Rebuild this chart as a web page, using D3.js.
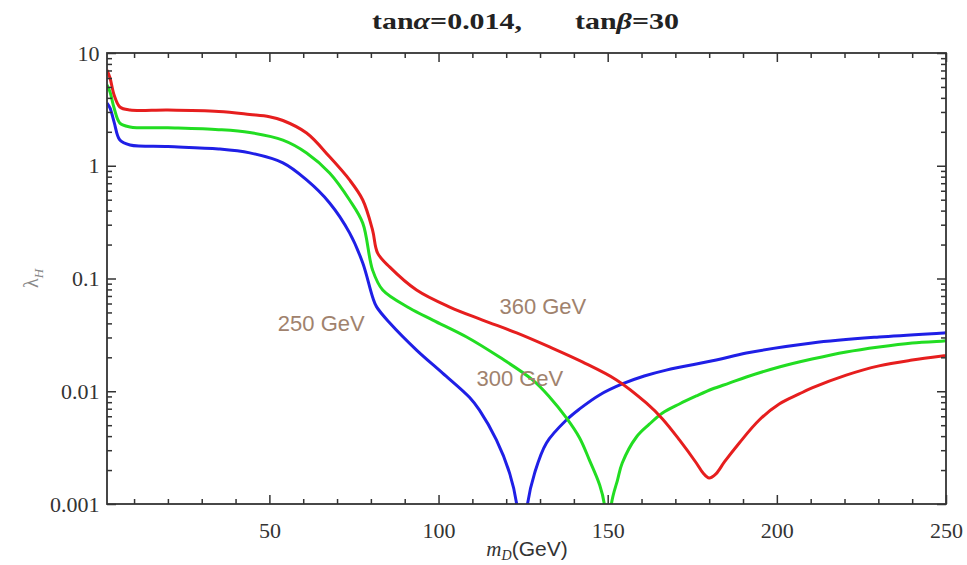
<!DOCTYPE html>
<html>
<head>
<meta charset="utf-8">
<script src="https://cdn.jsdelivr.net/npm/d3@7"></script>
<style>
  body { margin: 0; background: #fff; }
  .tick-label { font-family: "Liberation Serif", serif; font-size: 22px; fill: #333; }
  .annot { font-family: "Liberation Sans", Arial, sans-serif; font-size: 22px; fill: #a0826d; }
</style>
</head>
<body>
<div id="wrapper"></div>
<script>
// data
const redX = [2, 2.9, 4.1, 5.8, 8.8, 20, 35, 44.2, 50, 54, 61, 67.8, 73.7, 77.6, 80.5, 82, 85.6, 93.5, 103.3, 113, 123.1, 132.8, 142.5, 152.6, 161.4, 166.2, 171.2, 176.2, 178.2, 180, 182, 184.5, 188.9, 194.8, 200.7, 206.6, 210.4, 220.5, 230.2, 240, 249.4, 250];
const redY = [7.06, 6.0, 4.24, 3.32, 3.12, 3.12, 3.03, 2.85, 2.72, 2.52, 1.95, 1.2, 0.748, 0.497, 0.269, 0.168, 0.126, 0.079, 0.0558, 0.0428, 0.0329, 0.0247, 0.0182, 0.0126, 0.00787, 0.00568, 0.0037, 0.00231, 0.00188, 0.0017, 0.00185, 0.00236, 0.00348, 0.00556, 0.00771, 0.00946, 0.0107, 0.0139, 0.0168, 0.0189, 0.0206, 0.0207];

const greenX = [2, 2.9, 4.1, 5.8, 8.8, 20, 35, 44.2, 54, 61, 67.8, 73.7, 77.6, 80.5, 83.5, 91.5, 98.3, 108.3, 118, 127.8, 132.8, 137.8, 141.7, 144.6, 147.6, 149, 149.9, 151.1, 152.9, 154.3, 158.5, 162.3, 166.2, 171.2, 176.2, 180.9, 185.9, 191, 200.7, 210.4, 220.5, 230.2, 240, 249.4, 250];
const greenY = [5.2, 4.5, 3.25, 2.39, 2.21, 2.17, 2.09, 1.97, 1.69, 1.3, 0.863, 0.497, 0.31, 0.119, 0.079, 0.0545, 0.0428, 0.0303, 0.0201, 0.0126, 0.0089, 0.0058, 0.00385, 0.00245, 0.00148, 0.001, 0.0002, 0.001, 0.00163, 0.00231, 0.00393, 0.0051, 0.00641, 0.00771, 0.00908, 0.01047, 0.0118, 0.01337, 0.0164, 0.0193, 0.0223, 0.0247, 0.0268, 0.0279, 0.028];

const blueX = [2, 2.9, 4.1, 5.8, 8.8, 20, 35, 44.2, 54, 61, 67.8, 73.7, 77.6, 80.5, 81.7, 85.6, 93.5, 101.2, 109.2, 112.1, 117.1, 121, 123.1, 124.7, 126.3, 128.4, 131.9, 137.8, 141.7, 147.6, 154.3, 160.8, 167.3, 182.1, 191, 210.4, 230.2, 249.4, 250];
const blueY = [3.6, 3.25, 2.44, 1.69, 1.53, 1.48, 1.41, 1.3, 1.06, 0.748, 0.468, 0.254, 0.137, 0.0686, 0.056, 0.0403, 0.0232, 0.0145, 0.0088, 0.0068, 0.0037, 0.00188, 0.001, 0.0002, 0.001, 0.00188, 0.00348, 0.00556, 0.00697, 0.00927, 0.0116, 0.01364, 0.0154, 0.0189, 0.0218, 0.0268, 0.0303, 0.0329, 0.033];

const xMajorTicks = [50, 100, 150, 200, 250];
const yMajorTicks = [10, 1, 0.1, 0.01, 0.001];
const yTickLabels = ["10", "1", "0.1", "0.01", "0.001"];

const labels = [
  { text: "250 GeV", x: 52.5, y: 0.034 },
  { text: "360 GeV", x: 118, y: 0.048 },
  { text: "300 GeV", x: 111.2, y: 0.0112 },
];

async function drawChart() {
  // 1. dimensions
  let dimensions = {
    width: 967,
    height: 565,
    margin: { top: 53, right: 21, bottom: 61, left: 107 },
  };
  dimensions.boundedWidth = dimensions.width - dimensions.margin.left - dimensions.margin.right;
  dimensions.boundedHeight = dimensions.height - dimensions.margin.top - dimensions.margin.bottom;

  // 2. canvas
  const wrapper = d3.select("#wrapper")
    .append("svg")
    .attr("width", dimensions.width)
    .attr("height", dimensions.height);

  const bounds = wrapper.append("g")
    .attr("transform", `translate(${dimensions.margin.left},${dimensions.margin.top})`);

  bounds.append("clipPath").attr("id", "clip")
    .append("rect")
    .attr("width", dimensions.boundedWidth)
    .attr("height", dimensions.boundedHeight);

  // 3. scales
  const xScale = d3.scaleLinear()
    .domain([2, 250])
    .range([0, dimensions.boundedWidth]);

  const yScale = d3.scaleLog()
    .domain([0.001, 10])
    .range([dimensions.boundedHeight, 0]);

  // 4. curves
  const lineGenerator = d3.line()
    .x(d => xScale(d[0]))
    .y(d => yScale(d[1]))
    .curve(d3.curveCatmullRom.alpha(0.5));

  const series = [
    { xs: blueX, ys: blueY, color: "#1f1fe6" },
    { xs: greenX, ys: greenY, color: "#22dd22" },
    { xs: redX, ys: redY, color: "#e61e1e" },
  ];

  const lines = bounds.append("g").attr("clip-path", "url(#clip)");
  series.forEach(s => {
    lines.append("path")
      .datum(s.xs.map((x, i) => [x, s.ys[i]]))
      .attr("fill", "none")
      .attr("stroke", s.color)
      .attr("stroke-width", 3)
      .attr("stroke-linejoin", "round")
      .attr("d", lineGenerator);
  });

  // 5. axes (ticks point inward, like the original frame)
  const xMinor = d3.range(10, 251, 10).filter(v => !xMajorTicks.includes(v));
  const yMinor = [];
  [0.001, 0.01, 0.1, 1].forEach(p => d3.range(2, 10).forEach(k => yMinor.push(p * k)));

  const axisColor = "#333";

  const bottomAxis = bounds.append("g")
    .attr("transform", `translate(0,${dimensions.boundedHeight})`);
  bottomAxis.call(d3.axisBottom(xScale).tickValues(xMinor).tickSize(-5).tickFormat(""));
  bottomAxis.call(g => g.append("g").call(d3.axisBottom(xScale).tickValues(xMajorTicks).tickSize(-9).tickFormat(d3.format("d"))));

  const topAxis = bounds.append("g");
  topAxis.call(d3.axisTop(xScale).tickValues(xMinor).tickSize(-5).tickFormat(""));
  topAxis.call(g => g.append("g").call(d3.axisTop(xScale).tickValues(xMajorTicks).tickSize(-9).tickFormat("")));

  const leftAxis = bounds.append("g");
  leftAxis.call(d3.axisLeft(yScale).tickValues(yMinor).tickSize(-5).tickFormat(""));
  leftAxis.call(g => g.append("g").call(d3.axisLeft(yScale).tickValues(yMajorTicks).tickSize(-9)
    .tickFormat((d, i) => yTickLabels[i])));

  const rightAxis = bounds.append("g")
    .attr("transform", `translate(${dimensions.boundedWidth},0)`);
  rightAxis.call(d3.axisRight(yScale).tickValues(yMinor).tickSize(-5).tickFormat(""));
  rightAxis.call(g => g.append("g").call(d3.axisRight(yScale).tickValues(yMajorTicks).tickSize(-9).tickFormat("")));

  bounds.selectAll(".domain").remove();
  bounds.selectAll(".tick line").attr("stroke", axisColor).attr("stroke-width", 1.5);
  bounds.selectAll(".tick text").attr("class", "tick-label").attr("fill", null);
  bottomAxis.selectAll(".tick text").attr("dy", "1.4em");
  leftAxis.selectAll(".tick text").attr("dx", "-0.2em");

  // frame
  bounds.append("rect")
    .attr("width", dimensions.boundedWidth)
    .attr("height", dimensions.boundedHeight)
    .attr("fill", "none")
    .attr("stroke", axisColor)
    .attr("stroke-width", 1.8);

  // 6. annotations
  bounds.selectAll(".annot")
    .data(labels)
    .join("text")
    .attr("class", "annot")
    .attr("x", d => xScale(d.x))
    .attr("y", d => yScale(d.y))
    .text(d => d.text);

  // title, two parts stretched to the widths seen in the picture
  const titleStyle = sel => sel
    .attr("y", 29)
    .attr("lengthAdjust", "spacingAndGlyphs")
    .style("font-family", "Liberation Serif, serif")
    .style("font-size", "23px")
    .style("font-weight", "bold")
    .attr("fill", "#222");

  const title1 = wrapper.append("text").attr("x", 372).attr("textLength", 150).call(titleStyle);
  title1.append("tspan").text("tan");
  title1.append("tspan").style("font-style", "italic").text("α");
  title1.append("tspan").text("=0.014,");

  const title2 = wrapper.append("text").attr("x", 575).attr("textLength", 104).call(titleStyle);
  title2.append("tspan").text("tan");
  title2.append("tspan").style("font-style", "italic").text("β");
  title2.append("tspan").text("=30");

  // x axis label
  const xLabel = wrapper.append("text")
    .attr("x", 527)
    .attr("y", 556)
    .attr("text-anchor", "middle")
    .style("font-size", "21px")
    .attr("fill", "#333");
  xLabel.append("tspan").style("font-family", "Liberation Serif, serif").style("font-style", "italic").text("m");
  xLabel.append("tspan").style("font-family", "Liberation Serif, serif").style("font-style", "italic")
    .style("font-size", "14px").attr("dy", 4).text("D");
  xLabel.append("tspan").style("font-family", "Liberation Sans, sans-serif").attr("dy", -4).text("(GeV)");

  // y axis label
  const yLabel = wrapper.append("text")
    .attr("transform", `translate(38,${dimensions.margin.top + dimensions.boundedHeight / 2}) rotate(-90)`)
    .attr("text-anchor", "middle")
    .style("font-family", "Liberation Serif, serif")
    .style("font-size", "20px")
    .attr("fill", "#888");
  yLabel.append("tspan").text("λ");
  yLabel.append("tspan").style("font-size", "13px").style("font-style", "italic").attr("dy", 5).text("H");
}
drawChart();
</script>
</body>
</html>
